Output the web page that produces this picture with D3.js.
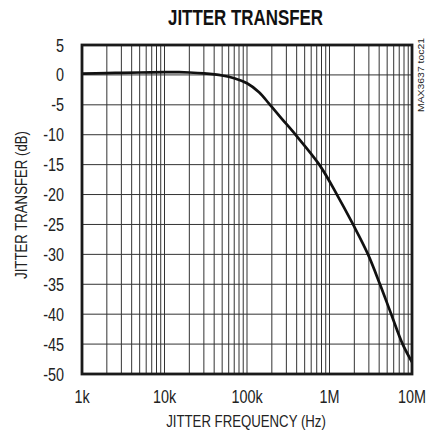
<!DOCTYPE html>
<html>
<head>
<meta charset="utf-8">
<script src="https://cdn.jsdelivr.net/npm/d3@7"></script>
<style>
  html, body { margin: 0; padding: 0; background: #fff; }
  svg { display: block; }
  text { font-family: "Liberation Sans", Arial, sans-serif; fill: #222; }
</style>
</head>
<body>
<script>
// ---- data ----
const freqHz = [1e3, 2e3, 3e3, 5e3, 1e4, 1.5e4, 2e4, 3e4, 5e4, 7e4, 1e5, 1.4e5, 1.9e5, 2.63e5, 3.93e5, 7.52e5, 1.23e6, 1.93e6, 2.93e6, 4.09e6, 5.6e6, 7.7e6, 1e7];
const transferDb = [0.2, 0.3, 0.35, 0.4, 0.45, 0.45, 0.4, 0.25, -0.1, -0.55, -1.4, -2.9, -5, -7.3, -10.1, -15, -20, -25, -30, -35, -40, -45, -48];
const xTickValues = [1e3, 1e4, 1e5, 1e6, 1e7];
const xTickLabels = ["1k", "10k", "100k", "1M", "10M"];
const yTickValues = [5, 0, -5, -10, -15, -20, -25, -30, -35, -40, -45, -50];
const titleText = "JITTER TRANSFER";
const xAxisTitle = "JITTER FREQUENCY (Hz)";
const yAxisTitle = "JITTER TRANSFER (dB)";
const sideNote = "MAX3637 toc21";

// ---- layout ----
const W = 430, H = 439;
const L = 82, R = 412, T = 45, B = 374;
const SX = 0.8; // horizontal condensing of text

const svg = d3.select("body").append("svg").attr("width", W).attr("height", H);

const x = d3.scaleLog().domain([1e3, 1e7]).range([L, R]);
const y = d3.scaleLinear().domain([-50, 5]).range([B, T]);

// vertical log grid
const vGrid = [];
for (let d = 1e3; d < 1e7; d *= 10) for (let m = 1; m < 10; m++) vGrid.push(d * m);
vGrid.push(1e7);

const g = svg.append("g");
g.selectAll("line.v").data(vGrid).enter().append("line")
  .attr("x1", d => x(d)).attr("x2", d => x(d))
  .attr("y1", T).attr("y2", B)
  .attr("stroke", "#333").attr("stroke-width", 1);

g.selectAll("line.h").data(yTickValues).enter().append("line")
  .attr("x1", L).attr("x2", R)
  .attr("y1", d => y(d)).attr("y2", d => y(d))
  .attr("stroke", "#333").attr("stroke-width", 1);

// curve
const pts = freqHz.map((f, i) => [f, transferDb[i]]);
const line = d3.line().x(d => x(d[0])).y(d => y(d[1])).curve(d3.curveCatmullRom.alpha(0.5));
svg.append("path").datum(pts).attr("d", line)
  .attr("fill", "none").attr("stroke", "#111").attr("stroke-width", 2.7)
  .attr("stroke-linejoin", "round");

// frame
svg.append("rect").attr("x", L).attr("y", T).attr("width", R - L).attr("height", B - T)
  .attr("fill", "none").attr("stroke", "#1a1a1a").attr("stroke-width", 2.8);

// y tick labels
svg.selectAll("text.yt").data(yTickValues).enter().append("text")
  .attr("transform", d => `translate(64,${y(d) + 6.5}) scale(${SX},1)`)
  .attr("text-anchor", "end").attr("font-size", 18)
  .text(d => d);

// x tick labels
svg.selectAll("text.xt").data(xTickValues).enter().append("text")
  .attr("transform", d => `translate(${x(d)},403) scale(${SX},1)`)
  .attr("text-anchor", "middle").attr("font-size", 18)
  .text((d, i) => xTickLabels[i]);

// title
svg.append("text").attr("x", 245.5).attr("y", 25)
  .attr("text-anchor", "middle").attr("font-size", 22).attr("font-weight", "bold")
  .attr("textLength", 155).attr("lengthAdjust", "spacingAndGlyphs")
  .style("fill", "#111")
  .text(titleText);

// axis titles
svg.append("text")
  .attr("transform", `translate(246,427) scale(${SX},1)`)
  .attr("text-anchor", "middle").attr("font-size", 16.5)
  .text(xAxisTitle);

svg.append("text")
  .attr("transform", `translate(27,205) rotate(-90) scale(${SX},1)`)
  .attr("text-anchor", "middle").attr("font-size", 16.5)
  .text(yAxisTitle);

// side note
svg.append("text")
  .attr("transform", "translate(424,112) rotate(-90)")
  .attr("text-anchor", "start").attr("font-size", 9.5)
  .attr("textLength", 74).attr("lengthAdjust", "spacingAndGlyphs")
  .text(sideNote);
</script>
</body>
</html>
